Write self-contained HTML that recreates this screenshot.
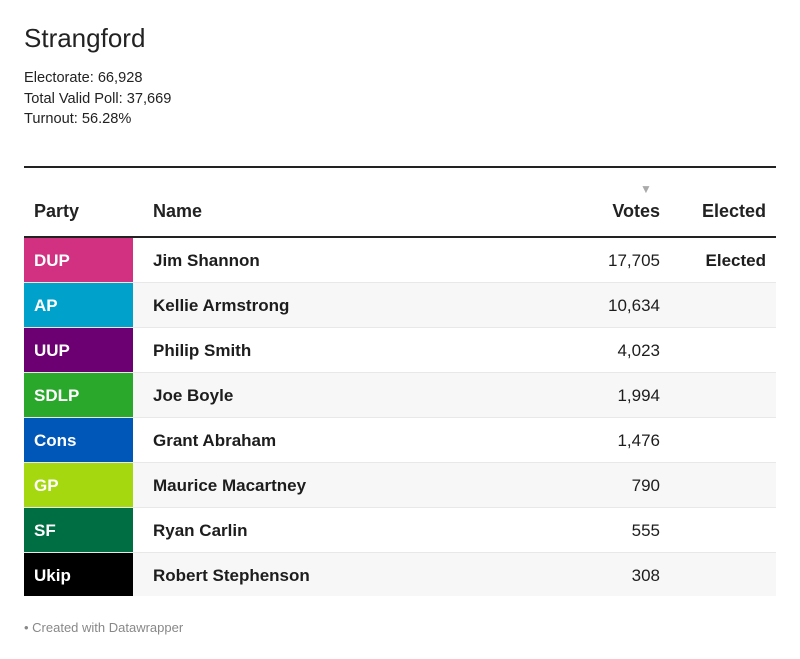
<!DOCTYPE html>
<html><head><meta charset="utf-8"><style>
body{margin:0;width:800px;height:659px;background:#fff;font-family:"Liberation Sans",sans-serif;color:#1d1d1d;position:relative;overflow:hidden}
.t{position:absolute;left:24px;top:23px;font-size:26px;color:#222}
.i{position:absolute;left:24px;top:68px;font-size:14.6px;line-height:20.5px;color:#222}
.top{position:absolute;left:24px;top:166px;width:752px;height:2px;background:#222}
.h{position:absolute;top:201px;font-size:18px;font-weight:bold;color:#222}
.hl{position:absolute;left:24px;top:236px;width:752px;height:2px;background:#222}
.r{position:absolute;left:24px;width:752px;height:45px;border-bottom:1px solid #e8e8e8;box-sizing:border-box}
.p{position:absolute;left:0;top:0;width:109px;height:44px;color:#fff;font-weight:bold;font-size:17px;line-height:46px;padding-left:10px;box-sizing:border-box}
.n{position:absolute;left:129px;top:0;line-height:46px;font-size:17px;font-weight:bold}
.v{position:absolute;right:116px;top:0;line-height:46px;font-size:17px}
.e{position:absolute;right:10px;top:0;line-height:46px;font-size:17px;font-weight:bold}
.f{position:absolute;left:24px;top:620px;font-size:13px;color:#888}
</style></head><body>
<div class="t">Strangford</div>
<div class="i">Electorate: 66,928<br>Total Valid Poll: 37,669<br>Turnout: 56.28%</div>
<div class="top"></div>
<div style="position:absolute;left:640px;top:182px;font-size:12px;color:#aaa">▼</div>
<div class="h" style="left:34px">Party</div>
<div class="h" style="left:153px">Name</div>
<div class="h" style="right:140px">Votes</div>
<div class="h" style="right:34px">Elected</div>
<div class="hl"></div>
<div class="r" style="top:238px;background:#fff"><div class="p" style="background:#d23081">DUP</div><div class="n">Jim Shannon</div><div class="v">17,705</div><div class="e">Elected</div></div>
<div class="r" style="top:283px;background:#f7f7f7"><div class="p" style="background:#00a1cb">AP</div><div class="n">Kellie Armstrong</div><div class="v">10,634</div></div>
<div class="r" style="top:328px;background:#fff"><div class="p" style="background:#6c0072">UUP</div><div class="n">Philip Smith</div><div class="v">4,023</div></div>
<div class="r" style="top:373px;background:#f7f7f7"><div class="p" style="background:#2aa82c">SDLP</div><div class="n">Joe Boyle</div><div class="v">1,994</div></div>
<div class="r" style="top:418px;background:#fff"><div class="p" style="background:#0057b8">Cons</div><div class="n">Grant Abraham</div><div class="v">1,476</div></div>
<div class="r" style="top:463px;background:#f7f7f7"><div class="p" style="background:#a6d810">GP</div><div class="n">Maurice Macartney</div><div class="v">790</div></div>
<div class="r" style="top:508px;background:#fff"><div class="p" style="background:#006e43">SF</div><div class="n">Ryan Carlin</div><div class="v">555</div></div>
<div class="r" style="top:553px;background:#f7f7f7;border:none;height:43px"><div class="p" style="background:#000;height:43px">Ukip</div><div class="n">Robert Stephenson</div><div class="v">308</div></div>
<div class="f">• Created with Datawrapper</div>
</body></html>
